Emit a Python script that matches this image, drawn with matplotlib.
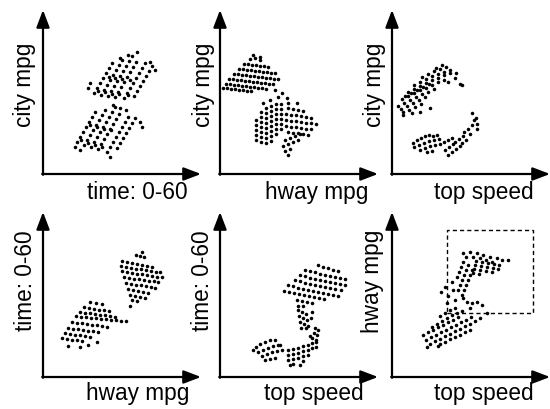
import matplotlib
matplotlib.use("Agg")
import matplotlib.pyplot as plt
from matplotlib.patches import Rectangle

plt.rcParams['font.family'] = ['Liberation Sans', 'DejaVu Sans']

W, H = 550, 409

# point clouds (panel units, origin at the axis corner)
time_city_a = [(51,81),(54,86),(57,91),(60,96),(63,101),(66,106),(69,111),
               (58,79),(61,84),(64,89),(67,94),(70,99),(73,104),(76,109),(79,114),
               (65,78),(68,83),(71,88),(74,93),(77,98),(80,103),(83,108),(86,113),(89,118),
               (72,77),(75,82),(78,87),(81,92),(84,97),(87,102),(90,107),(93,112),
               (81,76),(84,81),(87,86),(90,91),(93,96),(96,101),(99,106),(102,111),
               (91,78),(94,83),(97,88),(100,93),(103,98),(106,103),(109,108),
               (94,122),(85,119),(77,116),(107,112),(112,104),(45,86),(47,91),
               (55,83),(62,82),(69,80),(76,80),(85,79),(66,97),(72,96),(79,95),(87,94)]
time_city_b = [(34,32),(37,37),(40,42),(43,47),(46,52),(49,57),(52,62),
               (41,29),(44,34),(47,39),(50,44),(53,49),(56,54),(59,59),(62,64),
               (48,27),(51,32),(54,37),(57,42),(60,47),(63,52),(66,57),(69,62),(72,67),
               (55,25),(58,30),(61,35),(64,40),(67,45),(70,50),(73,55),(76,60),
               (64,22),(67,27),(70,32),(73,37),(76,42),(79,47),(82,52),(85,57),
               (74,26),(77,31),(80,36),(83,41),(86,46),(89,51),(92,56),
               (70,69),(77,66),(83,64),(97,52),(99,47),(67,17),(37,24),(32,27),
               (38,34),(45,31),(52,29),(59,27),(47,49),(54,47),(61,45),(68,44)]

hway_city_a = [(3,86),(7,86),(11,85),(15,85),(19,84),(23,84),(27,83),(31,83),
               (6,90),(10,90),(14,89),(18,89),(22,88),(26,88),(30,87),(34,87),(38,86),(42,86),(46,85),
               (9,95),(13,95),(17,94),(21,94),(25,93),(29,93),(33,92),(37,92),(41,91),(45,91),(49,90),(53,90),
               (14,100),(18,100),(22,99),(26,99),(30,98),(34,98),(38,97),(42,97),(46,96),(50,96),(54,95),(58,95),
               (19,105),(23,105),(27,104),(31,104),(35,103),(39,103),(43,102),(47,102),(51,101),(55,101),
               (24,110),(28,110),(32,109),(36,109),(40,108),(44,108),(48,107),
               (30,115),(35,116),(40,114),(33,119),(40,117)]
hway_city_b = [(36,54),(36,49),(36,44),(36,39),(36,34),
               (41,62),(41,57),(41,52),(41,47),(41,42),(41,37),(41,32),
               (46,66),(46,61),(46,56),(46,51),(46,46),(46,41),(46,36),(46,31),
               (51,68),(51,63),(51,58),(51,53),(51,48),(51,43),(51,38),(51,33),
               (56,70),(56,65),(56,60),(56,55),(56,50),(56,45),(56,40),
               (61,70),(61,65),(61,60),(61,55),(61,50),(61,45),
               (68,66),(73,65),(78,64),(83,63),
               (66,60),(71,59),(76,59),(81,58),(86,57),(91,56),
               (66,54),(71,53),(76,53),(81,52),(86,51),(91,51),(96,50),
               (66,48),(71,47),(76,47),(81,46),(86,45),(91,45),
               (68,42),(73,41),(78,41),(83,40),(88,39),
               (65,34),(70,36),(75,38),(80,40),(63,28),(68,30),(73,32),(78,34),
               (65,23),(70,25),(68,19),
               (62,81),(58,77),(67,76),(50,74),(43,71),(68,71),(77,71),(55,84)]

speed_city_a = [(11,62),(17,64),(23,67),(29,70),
                (6,68),(12,71),(18,74),(24,77),(30,80),(36,82),(42,85),
                (10,75),(16,78),(22,81),(28,84),(34,86),(40,89),(46,92),(52,94),
                (16,82),(22,85),(28,88),(34,91),(40,94),(46,96),(52,99),(58,101),
                (22,89),(28,92),(34,95),(40,98),(46,100),(52,102),(58,104),(64,101),
                (30,97),(36,100),(42,103),(48,105),(54,107),
                (50,109),(44,106),(63,96),(68,90),(70,89),(56,92),(38,66),(28,62),(20,61),(11,59),
                (9,65),(15,68),(21,71),(27,74),(33,77),(13,78),(19,81),(25,84),(31,87),(37,90)]
speed_city_b = [(21,31),(25,34),(29,36),(33,38),(37,39),(41,38),(45,39),
                (22,27),(27,29),(32,31),(37,33),(42,34),(47,35),
                (28,24),(33,26),(38,28),(43,29),(48,30),(35,22),(40,23),
                (53,24),(57,27),(61,30),(56,19),(60,22),(64,25),(68,28),
                (63,32),(67,35),(71,38),(70,31),(74,34),(72,42),(76,45),(78,40),
                (80,49),(82,54),(80,61),(84,56),(85,50),(85,45),(52,32),(56,34),(60,36)]

hway_time_a = [(93,122),(97,121),(101,120),(99,125),
               (79,116),(84,115),(89,114),(94,113),(99,112),(104,111),(109,110),
               (78,111),(83,110),(88,109),(93,108),(98,108),(103,107),(108,106),(113,105),(117,105),
               (79,106),(84,105),(89,104),(94,103),(99,103),(104,102),(109,101),(114,100),(119,100),
               (81,100),(86,99),(91,98),(96,98),(101,97),(106,96),(111,96),(115,95),
               (83,94),(88,93),(93,92),(98,92),(103,91),(108,90),(112,89),
               (85,88),(90,87),(95,86),(100,85),(105,84),
               (87,82),(92,81),(97,80),(102,79),
               (89,77),(94,76),(87,71)]
hway_time_b = [(47,75),(53,74),(59,73),
               (41,70),(46,69),(51,68),(56,67),(61,67),(66,66),
               (37,65),(42,64),(47,64),(52,63),(57,62),(62,62),(67,61),(72,60),
               (33,61),(38,60),(43,60),(48,59),(53,59),(58,58),(63,58),(68,57),(73,57),(78,56),(83,56),
               (29,55),(34,54),(39,54),(44,53),(49,52),(54,52),(59,51),(64,50),
               (25,49),(30,48),(35,48),(40,47),(45,46),(50,46),(55,45),
               (22,44),(27,43),(32,42),(37,42),(42,41),(47,40),
               (19,39),(24,38),(29,37),(34,37),(39,36),
               (25,31),(37,30),(45,32),(54,35)]

speed_time_a = [(98,112),(103,110),(108,109),(113,107),(118,106),
                (85,107),(90,106),(95,105),(100,103),(105,102),(110,101),(115,100),(120,99),(125,98),
                (80,102),(85,101),(90,99),(95,98),(100,97),(105,96),(110,95),(115,94),(120,93),(125,92),
                (75,97),(80,96),(85,94),(90,93),(95,92),(100,91),(105,90),(110,89),(115,88),(121,87),
                (68,92),(73,91),(78,89),(83,88),(88,87),(93,86),(98,85),(103,84),(108,83),(113,82),(118,81),
                (64,86),(69,85),(74,84),(79,83),(84,82),(89,81),(94,80),(99,79),(104,78),
                (77,77),(82,76),(87,75),(92,74),(78,71),(83,71),
                (78,67),(82,65),(86,63),(79,61),(83,59),(87,57),(80,55),(84,53),(88,51),
                (91,59),(92,65),(86,49),(81,49),
                (95,49),(98,47),(94,44),(97,42),(92,39),(96,37),(90,41)]
speed_time_b = [(36,30),(40,33),(45,35),(50,37),(55,37),(38,25),(43,27),(48,29),(53,31),(58,32),
                (42,21),(47,23),(52,25),(57,26),(62,27),(45,17),(50,18),(55,19),(33,27),(60,32),
                (68,27),(68,22),(68,17),(73,28),(73,23),(73,18),(73,13),(78,29),(78,24),(78,19),
                (83,31),(83,26),(83,21),(83,16),(88,32),(88,27),(88,22),(92,34),(92,29),
                (96,35),(96,30),(80,12),(70,12)]

speed_hway_a = [(71,124),(78,125),(85,124),(91,122),(98,120),(105,119),(110,117),(116,117),
                (74,120),(81,120),(88,119),(94,117),(100,115),
                (84,116),(83,112),(82,108),(81,104),(90,115),(89,111),(88,107),(87,103),
                (96,114),(95,110),(94,106),(102,113),(101,109),(100,105),(107,112),(106,108),
                (76,112),(74,107),(72,102),(70,97),(68,92),(66,87),
                (80,107),(78,102),(76,97),(74,92),(72,87),(70,82),
                (71,115),(69,110),(67,105),(65,100),
                (60,95),(53,90),(61,87),(49,85),(56,81),(63,77),(71,79),(75,75),
                (80,74),(85,75),(90,72),(95,64),(78,69),(55,74)]
speed_hway_b = [(31,42),(36,45),(41,47),(46,50),(51,52),(56,55),(61,57),(66,60),
                (34,37),(39,40),(44,42),(49,45),(54,47),(59,50),(64,52),(69,55),(74,57),(79,60),
                (38,33),(43,36),(48,38),(53,41),(58,43),(63,46),(68,48),(73,51),(78,53),(83,56),(88,59),
                (48,33),(53,35),(58,38),(63,40),(68,42),(73,45),(78,47),
                (40,50),(45,53),(50,56),(55,59),(60,62),(65,64),(70,66),
                (48,61),(53,64),(58,67),(63,69),(46,31),(35,30)]

# selection box on the last panel (x0, y0, width, height)
box = (55, 64, 86, 83)

# panel layout in pixels: origin x, origin y, axis length x, axis length y
panels = [
    (43, 174, 158, 164, "time: 0-60", "city mpg", 137, 31, [time_city_a, time_city_b]),
    (220, 174, 158, 164, "hway mpg", "city mpg", 317, 210, [hway_city_a, hway_city_b]),
    (392, 174, 158, 164, "top speed", "city mpg", 484, 381, [speed_city_a, speed_city_b]),
    (43, 377, 158, 165, "hway mpg", "time: 0-60", 138, 32, [hway_time_a, hway_time_b]),
    (220, 377, 158, 165, "top speed", "time: 0-60", 314, 209, [speed_time_a, speed_time_b]),
    (392, 377, 158, 165, "top speed", "hway mpg", 484, 379, [speed_hway_a, speed_hway_b]),
]

fig = plt.figure(figsize=(W / 100, H / 100), dpi=100)

arrow = dict(arrowstyle="-|>,head_length=1.05,head_width=0.4", mutation_scale=10,
             lw=1.6, color="black", shrinkA=0, shrinkB=0)

for i, (ox, oy, w, h, xl, yl, xlc, ylx, clouds) in enumerate(panels):
    ax = fig.add_axes([ox / W, (H - oy) / H, w / W, h / H])
    ax.set_xlim(0, w)
    ax.set_ylim(0, h)
    ax.axis("off")
    for pts in clouds:
        xs, ys = zip(*pts)
        ax.scatter(xs, ys, s=6.5, c="black", linewidths=0, clip_on=False)
    ax.annotate("", xy=(w, 0), xytext=(-0.8, 0), arrowprops=arrow, annotation_clip=False)
    ax.annotate("", xy=(0, h), xytext=(0, -0.8), arrowprops=arrow, annotation_clip=False)
    if i == 5:
        ax.add_patch(Rectangle(box[:2], box[2], box[3], fill=False, ec="black",
                               lw=1.0, ls=(0, (3, 2.2)), clip_on=False))
    base = 199 if oy < 200 else 400
    fig.text(xlc / W, 1 - base / H, xl, ha="center", va="baseline", fontsize=16.3)
    cy = 85 if oy < 200 else 281
    fig.text(ylx / W, 1 - cy / H, yl, rotation=90, rotation_mode="anchor",
             ha="center", va="baseline", fontsize=16.3)

fig.savefig("out.png", dpi=100)
